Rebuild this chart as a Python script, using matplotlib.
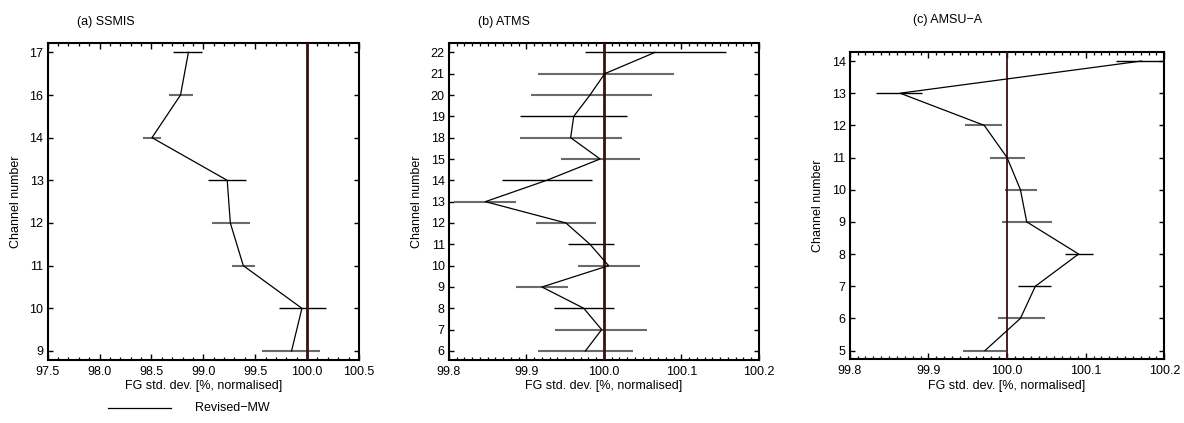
import numpy as np
import matplotlib
matplotlib.use("Agg")
import matplotlib.pyplot as plt
from matplotlib.ticker import MultipleLocator, FixedLocator

plt.rcParams['font.family'] = ['Liberation Sans', 'DejaVu Sans']

# ---------------- data ----------------
# (a) SSMIS
ssmis_channels = ['9', '10', '11', '12', '13', '14', '16', '17']
ssmis_value = [99.85, 99.95, 99.385, 99.26, 99.23, 98.505, 98.78, 98.856]
ssmis_lo = [99.57, 99.73, 99.28, 99.08, 99.04, 98.415, 98.67, 98.71]
ssmis_hi = [100.12, 100.18, 99.495, 99.45, 99.41, 98.59, 98.90, 98.99]
ssmis_dark = [0, 1, 0, 0, 1, 0, 0, 1]

# (b) ATMS
atms_channels = ['6', '7', '8', '9', '10', '11', '12', '13', '14', '15',
                 '18', '19', '20', '21', '22']
atms_value = [99.976, 99.997, 99.974, 99.920, 100.006, 99.982, 99.951, 99.847,
              99.926, 99.995, 99.957, 99.961, 99.982, 100.001, 100.066]
atms_lo = [99.915, 99.937, 99.935, 99.886, 99.966, 99.953, 99.912, 99.807,
           99.869, 99.944, 99.892, 99.892, 99.906, 99.915, 99.975]
atms_hi = [100.037, 100.056, 100.013, 99.954, 100.046, 100.013, 99.990, 99.887,
           99.985, 100.047, 100.023, 100.030, 100.062, 100.091, 100.157]
atms_dark = [0, 0, 1, 0, 0, 1, 0, 0, 1, 0, 0, 1, 0, 0, 1]

# (c) AMSU-A
amsua_channels = ['5', '6', '7', '8', '9', '10', '11', '12', '13', '14']
amsua_value = [99.972, 100.017, 100.036, 100.091, 100.025, 100.017, 100.000,
               99.971, 99.864, 100.171]
amsua_lo = [99.944, 99.989, 100.014, 100.074, 99.994, 99.997, 99.978,
            99.947, 99.834, 100.139]
amsua_hi = [99.999, 100.048, 100.056, 100.109, 100.057, 100.038, 100.023,
            99.994, 99.892, 100.203]
amsua_dark = [0, 0, 1, 1, 0, 0, 0, 0, 1, 1]

panels = [
    dict(title='(a) SSMIS', ch=ssmis_channels, v=ssmis_value, lo=ssmis_lo,
         hi=ssmis_hi, dark=ssmis_dark, xlim=(97.5, 100.5), minor=0.1,
         xticks=[97.5, 98.0, 98.5, 99.0, 99.5, 100.0, 100.5],
         pos=[0.0403, 0.1489, 0.2629, 0.7487], reflw=2.0, title_xy=(77, 22),
         ylab_x=16),
    dict(title='(b) ATMS', ch=atms_channels, v=atms_value, lo=atms_lo,
         hi=atms_hi, dark=atms_dark, xlim=(99.8, 100.2), minor=0.01,
         xticks=[99.8, 99.9, 100.0, 100.1, 100.2],
         pos=[0.3792, 0.1489, 0.2618, 0.7487], reflw=2.0, title_xy=(478, 22),
         ylab_x=417),
    dict(title='(c) AMSU\u2212A', ch=amsua_channels, v=amsua_value, lo=amsua_lo,
         hi=amsua_hi, dark=amsua_dark, xlim=(99.8, 100.2), minor=0.01,
         xticks=[99.8, 99.9, 100.0, 100.1, 100.2],
         pos=[0.7177, 0.1506, 0.2657, 0.7258], reflw=1.3, title_xy=(913, 20),
         ylab_x=818),
]

W, H = 1184, 423
FS = 9
fig = plt.figure(figsize=(W / 100, H / 100), dpi=100)

for p in panels:
    ax = fig.add_axes(p['pos'])
    n = len(p['ch'])
    y = np.arange(n)
    dark = np.array(p['dark'], dtype=bool)
    lo = np.array(p['lo'])
    hi = np.array(p['hi'])
    ax.hlines(y[~dark], lo[~dark], hi[~dark], colors='#6a6a6a', linewidth=1.5, zorder=2)
    ax.hlines(y[dark], lo[dark], hi[dark], colors='#000000', linewidth=1.0, zorder=2)
    ax.axvline(100.0, color='#3a1010', linewidth=p['reflw'], zorder=3)
    ax.plot(p['v'], y, color='black', linewidth=0.9, zorder=4)
    ax.set_xlim(*p['xlim'])
    pad = 0.0285 * (n - 1) / (1 - 2 * 0.0285)
    ax.set_ylim(-pad, n - 1 + pad)
    ax.yaxis.set_major_locator(FixedLocator(y))
    ax.set_yticklabels(p['ch'])
    ax.xaxis.set_major_locator(FixedLocator(p['xticks']))
    ax.set_xticklabels(['%.1f' % t for t in p['xticks']])
    ax.xaxis.set_minor_locator(MultipleLocator(p['minor']))
    ax.tick_params(axis='both', which='both', direction='in', top=True,
                   right=True, labelsize=FS, colors='black')
    ax.tick_params(axis='x', which='major', length=4, width=1.0, pad=4)
    ax.tick_params(axis='x', which='minor', length=2, width=0.9)
    ax.tick_params(axis='y', which='major', length=3.5, width=1.0, pad=3)
    for s in ax.spines.values():
        s.set_linewidth(1.5)
    ax.set_xlabel('FG std. dev. [%, normalised]', fontsize=FS, labelpad=2)
    yc = p['pos'][1] + p['pos'][3] / 2
    fig.text(p['ylab_x'] / W, yc, 'Channel number', rotation=90, fontsize=FS,
             ha='center', va='center')
    fig.text(p['title_xy'][0] / W, 1 - p['title_xy'][1] / H, p['title'],
             fontsize=FS, ha='left', va='center')

# legend
fig.add_artist(plt.Line2D([108 / W, 171 / W], [1 - 408 / H, 1 - 408 / H],
                          color='black', linewidth=0.9))
fig.text(195 / W, 1 - 408 / H, 'Revised\u2212MW', fontsize=FS, ha='left',
         va='center')

fig.savefig('out.png', dpi=100)
